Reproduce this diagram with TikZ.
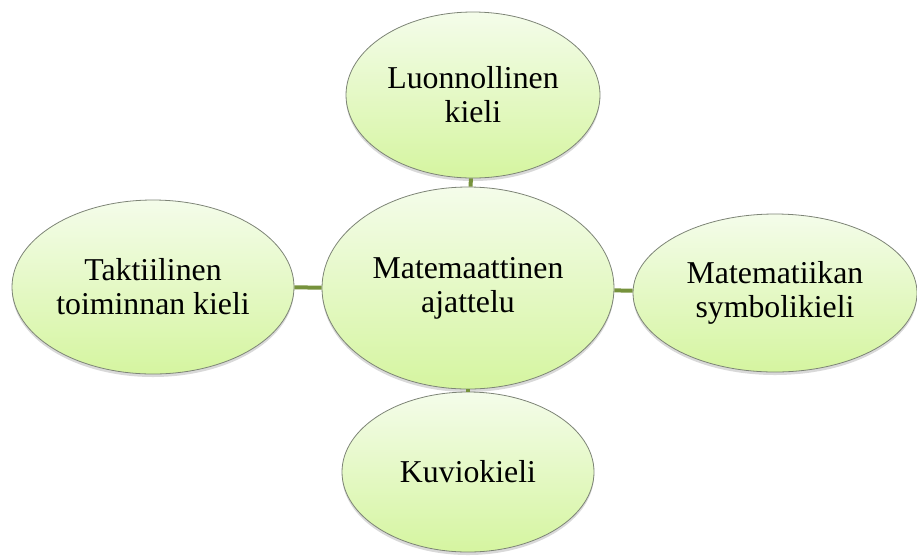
\documentclass[tikz,border=0pt]{standalone}
\usepackage{fontspec}
\setmainfont{Liberation Serif}
\usetikzlibrary{shapes.geometric,shadows}
\definecolor{a}{RGB}{244, 252, 234}
\definecolor{b}{RGB}{213, 245, 160}
\definecolor{c}{RGB}{118, 146, 60}
\definecolor{d}{RGB}{125, 132, 118}

\begin{document}
\begin{tikzpicture}[x=1pt,y=-1pt,
	bulle/.style={ellipse,draw=d,line width=0.8pt,top color=a,bottom color=b,inner sep=0pt,align=center,
		font=\fontsize{31.8}{34}\selectfont,drop shadow={opacity=0.3,shadow xshift=0pt,shadow yshift=-3pt}},
	lien/.style={draw=c,line width=4pt}]
			\useasboundingbox (0,0) rectangle (917,558); % 917 x 558
			\node[bulle,minimum width=254pt,minimum height=166pt] (h) at (473,95) {Luonnollinen\\kieli};
			\node[bulle,minimum width=282pt,minimum height=174pt] (g) at (153,287) {Taktiilinen\\toiminnan kieli};
			\node[bulle,minimum width=284pt,minimum height=158pt] (dr) at (775,293) {Matematiikan\\symbolikieli};
			\node[bulle,minimum width=292pt,minimum height=202pt] (m) at (468,288) {Matemaattinen\\ajattelu};
			\node[bulle,minimum width=252pt,minimum height=160pt] (bs) at (468,472) {Kuviokieli};
			\foreach \n in {h,g,dr,bs}{
				\draw[lien] (m) -- (\n);}
			\end{tikzpicture}
\end{document}
